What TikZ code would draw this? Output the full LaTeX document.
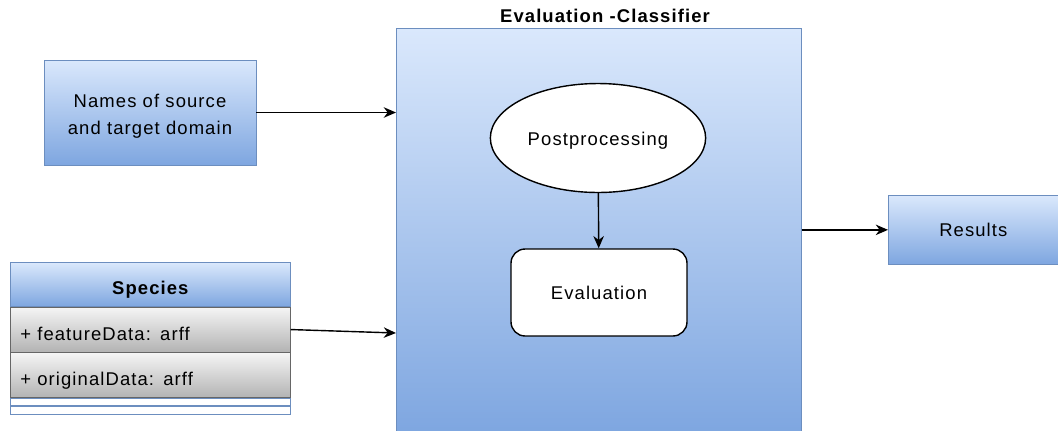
\documentclass[tikz,border=0pt]{standalone}
\usepackage{fontspec}
\setmainfont{Liberation Sans}[LetterSpace=6]
\usetikzlibrary{arrows.meta,positioning,shapes.geometric}

\definecolor{blueTop}{HTML}{DAE8FC}
\definecolor{blueBot}{HTML}{7EA6E0}
\definecolor{blueLine}{HTML}{6C8EBF}
\definecolor{grayTop}{HTML}{F5F5F5}
\definecolor{grayBot}{HTML}{B3B3B3}
\definecolor{grayLine}{HTML}{666666}

\tikzset{
  bluebox/.style={draw=blueLine, top color=blueTop, bottom color=blueBot, align=center, inner sep=0pt},
  lowtext/.style={text height=10pt, text depth=2pt},
  rowtext/.style={text height=14pt, text depth=2pt},
  rowbox/.style={draw=grayLine, top color=grayTop, bottom color=grayBot, anchor=north west, inner sep=0pt, minimum width=5.6cm, minimum height=0.9cm, text width=5.2cm, align=left, rowtext},
  flow/.style={-{Stealth[length=7pt,width=6pt]}, thick}
}

\begin{document}
\begin{tikzpicture}[x=0.02cm, y=-0.02cm, font=\fontsize{10.5}{15.3}\selectfont]
        \useasboundingbox (0,0) rectangle (1058,430);

        % Classifier block
        \node[bluebox, minimum width=8.1cm, minimum height=8.1cm, anchor=north west] (classifier) at (396,28) {};
        \node[font=\fontsize{10.5}{15.3}\selectfont\bfseries] (title) at (605,16) {Evaluation -Classifier};

        \node[draw, fill=white, ellipse, minimum width=4.22cm, minimum height=2.18cm, thick, lowtext] (post) at (598,138) {Postprocessing};
        \node[draw, fill=white, rounded corners=8pt, minimum width=3.52cm, minimum height=1.74cm, thick, lowtext] (eval) at (599,292.5) {Evaluation};
        \draw[flow] (post) -- (eval);

        % Inputs
        \node[bluebox, minimum width=4.24cm, minimum height=2.1cm] (names) at (150,112.5) {};
        \node[align=center, inner sep=0pt] (namesText) at (150,116) {Names of source\\and target domain};
        \draw[flow] (names.east) -- (names.east -| classifier.west);

        % Klasse Species
        \node[bluebox, minimum width=5.6cm, minimum height=0.88cm, anchor=north west, rowtext, font=\fontsize{10.5}{15.3}\selectfont\bfseries] (species) at (10,262) {Species};
        \node[rowbox] (featureRow) at (species.south west) {+ featureData: arff};
        \node[rowbox] (originalRow) at (featureRow.south west) {+ originalData: arff};
        \node[draw=blueLine, fill=white, anchor=north west, minimum width=5.6cm, minimum height=0.14cm, inner sep=0pt] (opsRow) at (originalRow.south west) {};
        \node[draw=blueLine, fill=white, anchor=north west, minimum width=5.6cm, minimum height=0.16cm, inner sep=0pt] (endRow) at (opsRow.south west) {};
        \coordinate (inFeat) at (396,333);
        \draw[flow] (featureRow.east) -- (inFeat);

        % Output
        \node[bluebox, minimum width=3.4cm, minimum height=1.38cm, anchor=north west, lowtext] (results) at (888,195) {Results};
        \draw[flow] (classifier.east |- results.west) -- (results.west);
\end{tikzpicture}
\end{document}
